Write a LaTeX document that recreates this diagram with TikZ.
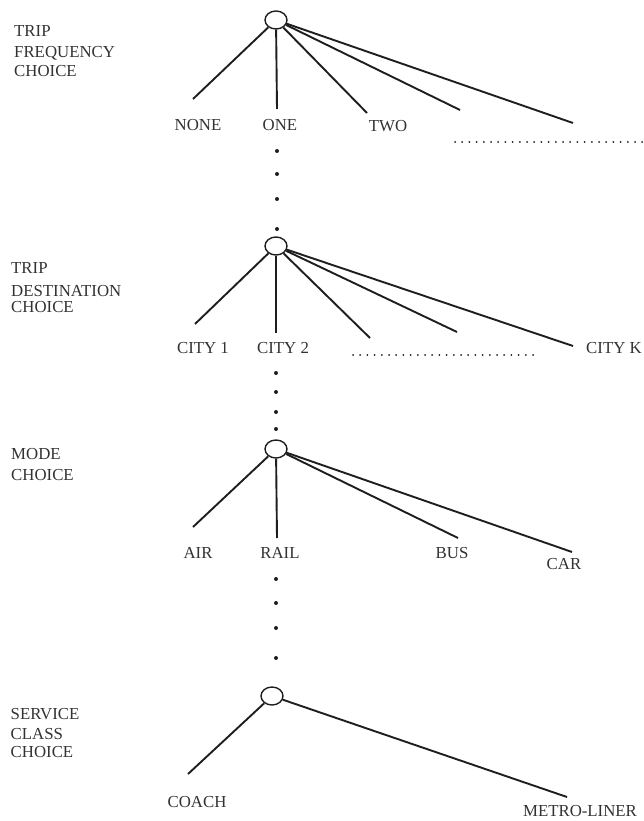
\documentclass[tikz,border=0pt]{standalone}
\usepackage{fontspec}
\setmainfont{Liberation Serif}
\usetikzlibrary{shapes.geometric}
\definecolor{ink}{RGB}{30,30,30}
\definecolor{txt}{RGB}{50,50,50}
\tikzset{
  choicenode/.style={ellipse, draw=ink, line width=1.4pt, minimum width=22pt, minimum height=18pt, inner sep=0pt},
  branch/.style={draw=ink, line width=1.9pt},
  lbl/.style={text=txt, font=\fontsize{16.8}{19}\selectfont, inner sep=0pt, anchor=base},
  side/.style={text=txt, font=\fontsize{16.8}{19}\selectfont, inner sep=0pt, anchor=base west},
  dotrow/.style={draw=ink, line width=2pt, line cap=round, dash pattern=on 0pt off 7.2pt},
  vdot/.style={fill=ink}
}
\begin{document}
\begin{tikzpicture}[x=1pt,y=-1pt]
\useasboundingbox (0,0) rectangle (644,821);

% ---------- Trip frequency ----------
\node[side] (f1) at (14,36.5) {TRIP};
\node[side] (f2) at (14,58) {FREQUENCY};
\node[side] (f3) at (14,76.5) {CHOICE};
\node[choicenode] (c1) at (276,20) {};
\coordinate (a1) at (193,99);
\coordinate (a2) at (277,109);
\coordinate (a3) at (367,113);
\coordinate (a4) at (460,110);
\coordinate (a5) at (573,123);
\foreach \e in {a1,a2,a3,a4,a5} \draw[branch] (c1) -- (\e);
\node[lbl] (none) at (198,130.5) {NONE};
\node[lbl] (one) at (280,130.5) {ONE};
\node[lbl] (two) at (388,131.5) {TWO};
\coordinate (fd1) at (455,142);
\coordinate (fd2) at (644,142);
\draw[dotrow] (fd1) -- (fd2);
\foreach \y in {151,174,199,229} \fill[vdot] (277,\y) circle (2pt);

% ---------- Trip destination ----------
\node[side] (d1) at (11,273.5) {TRIP};
\node[side] (d2) at (11,296) {DESTINATION};
\node[side] (d3) at (11,312.5) {CHOICE};
\node[choicenode] (c2) at (276,246) {};
\coordinate (b1) at (195,324);
\coordinate (b2) at (276,333);
\coordinate (b3) at (370,338);
\coordinate (b4) at (457,332);
\coordinate (b5) at (573,346);
\foreach \e in {b1,b2,b3,b4,b5} \draw[branch] (c2) -- (\e);
\node[lbl] (city1) at (203,353.5) {CITY 1};
\node[lbl] (city2) at (283,353.5) {CITY 2};
\node[lbl] (cityk) at (614,353.5) {CITY K};
\coordinate (dd1) at (353,355);
\coordinate (dd2) at (540,355);
\draw[dotrow] (dd1) -- (dd2);
\foreach \y in {373,392,412,429} \fill[vdot] (276,\y) circle (2pt);

% ---------- Mode ----------
\node[side] (m1) at (11,459.5) {MODE};
\node[side] (m2) at (11,480) {CHOICE};
\node[choicenode] (c3) at (276,449) {};
\coordinate (e1) at (193,527);
\coordinate (e2) at (277,538);
\coordinate (e3) at (458,538);
\coordinate (e4) at (572,552);
\foreach \e in {e1,e2,e3,e4} \draw[branch] (c3) -- (\e);
\node[lbl] (air) at (198,558.5) {AIR};
\node[lbl] (rail) at (280,558.5) {RAIL};
\node[lbl] (bus) at (452,558.5) {BUS};
\node[lbl] (car) at (564,569.5) {CAR};
\foreach \y in {579,603,628,658} \fill[vdot] (276,\y) circle (2pt);

% ---------- Service class ----------
\node[side] (s1) at (10.5,719.5) {SERVICE};
\node[side] (s2) at (10.5,739.5) {CLASS};
\node[side] (s3) at (10.5,757) {CHOICE};
\node[choicenode] (c4) at (272,696) {};
\coordinate (g1) at (188,774);
\coordinate (g2) at (567,797);
\foreach \e in {g1,g2} \draw[branch] (c4) -- (\e);
\node[lbl] (coach) at (197,807) {COACH};
\node[lbl] (metro) at (580,816.5) {METRO-LINER};
\end{tikzpicture}
\end{document}
